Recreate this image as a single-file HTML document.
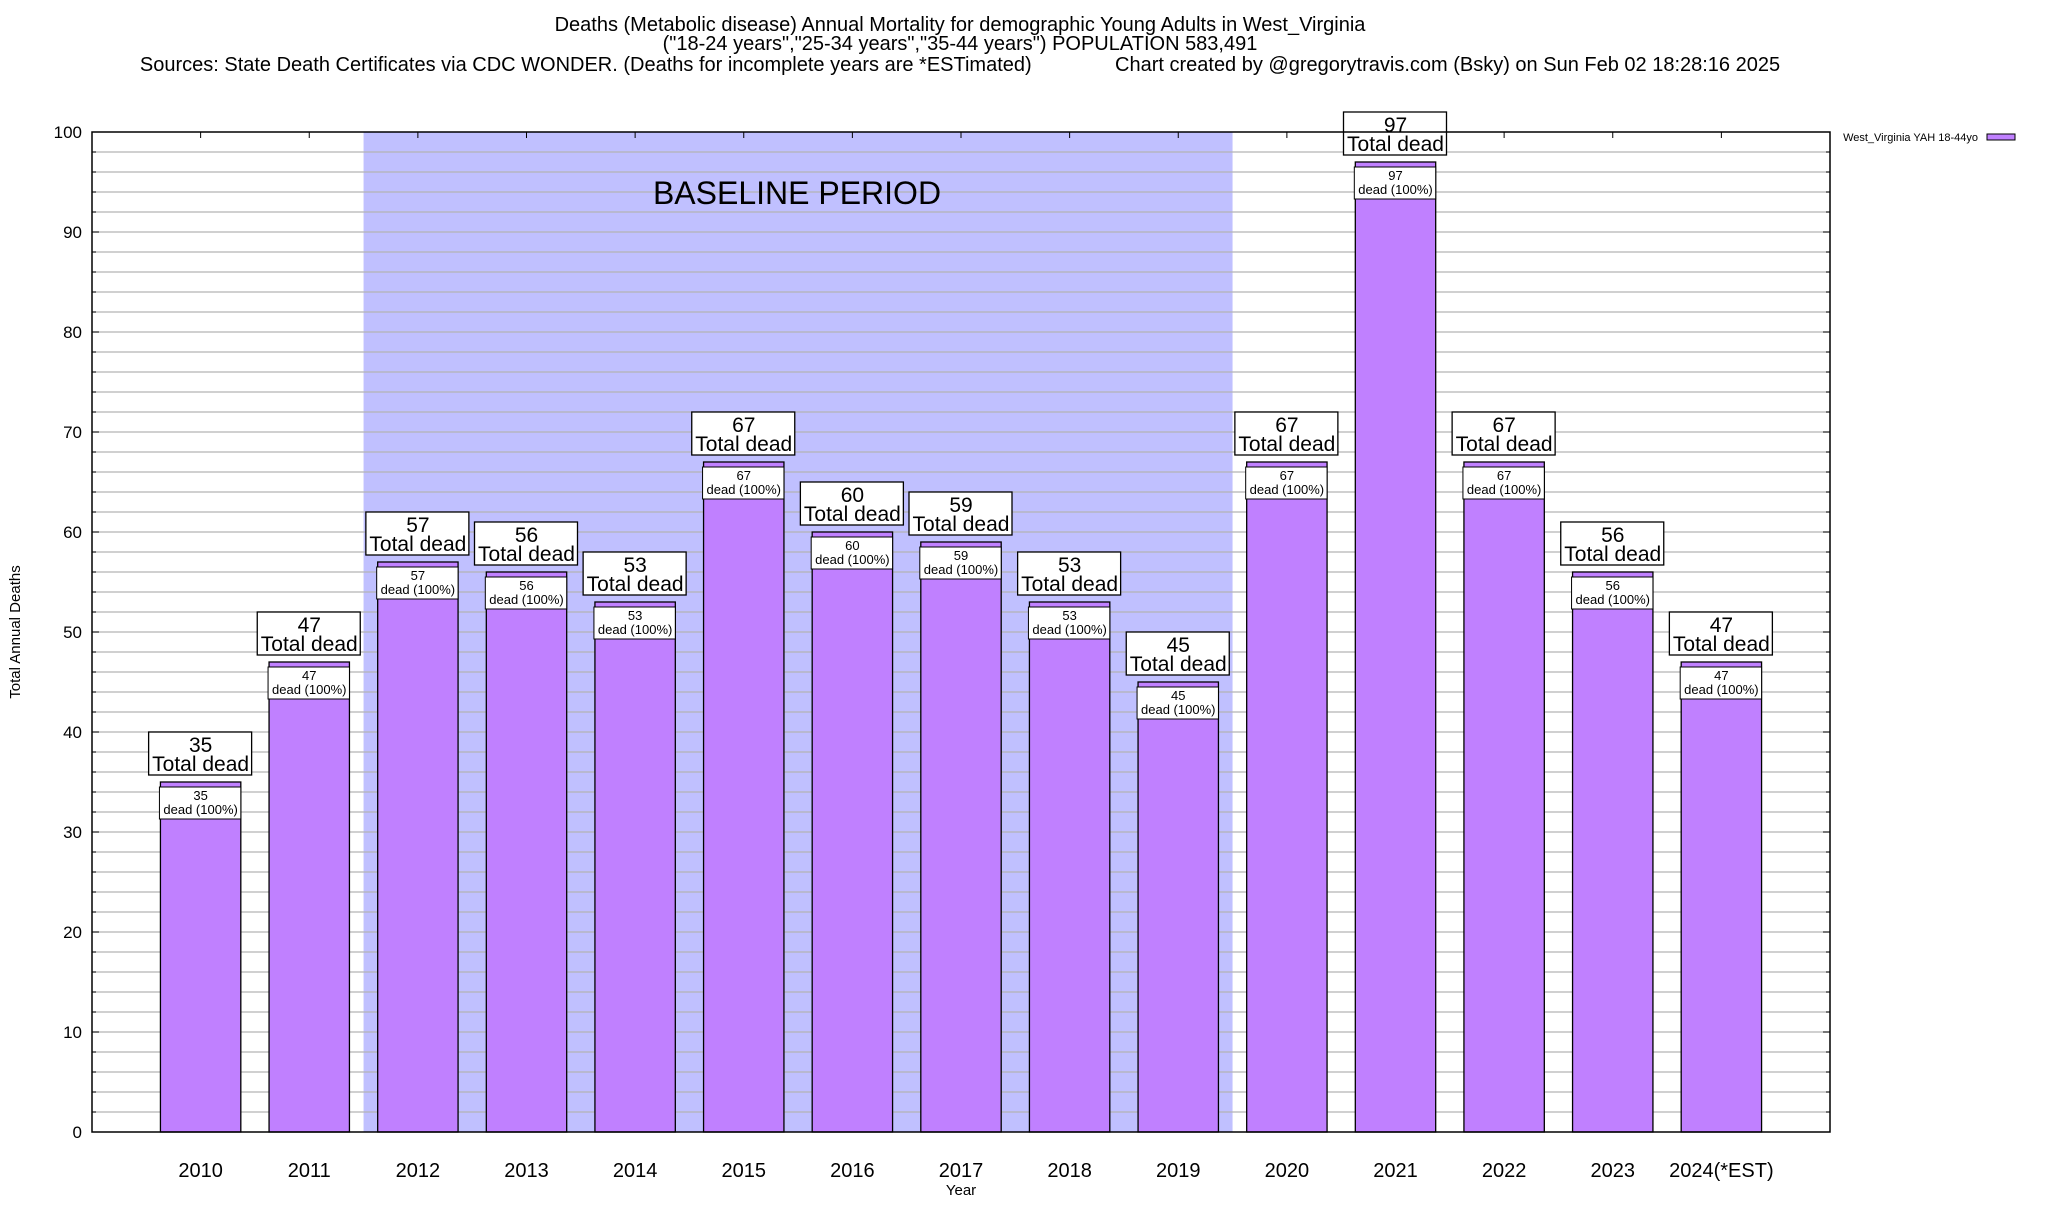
<!DOCTYPE html>
<html><head><meta charset="utf-8">
<style>
body{margin:0;background:#fff;}
svg text{font-family:"Liberation Sans",sans-serif;fill:#000;}
</style></head>
<body>
<svg id="chart" width="2048" height="1200" xmlns="http://www.w3.org/2000/svg">
<text x="960" y="31" font-size="20" text-anchor="middle">Deaths (Metabolic disease) Annual Mortality for demographic Young Adults in West_Virginia</text>
<text x="960" y="50" font-size="20" text-anchor="middle">("18-24 years","25-34 years","35-44 years") POPULATION 583,491</text>
<text x="960" y="71" font-size="20" text-anchor="middle" xml:space="preserve">Sources: State Death Certificates via CDC WONDER. (Deaths for incomplete years are *ESTimated)               Chart created by @gregorytravis.com (Bsky) on Sun Feb 02 18:28:16 2025</text>
<g id="plot"></g>
<text transform="translate(20,632) rotate(-90)" font-size="15" text-anchor="middle">Total Annual Deaths</text>
<text x="961" y="1195" font-size="15" text-anchor="middle">Year</text>
<g>
<text x="1978" y="141" font-size="11" text-anchor="end">West_Virginia YAH 18-44yo</text>
<rect x="1987" y="134" width="28" height="6" fill="#c080ff" stroke="#000" stroke-width="1"/>
</g>
</svg>
<script>
const categories=["2010","2011","2012","2013","2014","2015","2016","2017","2018","2019","2020","2021","2022","2023","2024(*EST)"];
const deaths=[35,47,57,56,53,67,60,59,53,45,67,97,67,56,47];
const yTicks=[0,10,20,30,40,50,60,70,80,90,100];
const baselineStart=2;
const baselineEnd=9;

const NS="http://www.w3.org/2000/svg";
const L=92,R=1830,T=132,B=1132;
const xs=i=>L+(i+1)*(R-L)/16;
const ys=v=>B-(v/100)*(B-T);
const g=document.getElementById('plot');
function mk(tag,attrs,parent){const e=document.createElementNS(NS,tag);for(const k in attrs)e.setAttribute(k,attrs[k]);(parent||g).appendChild(e);return e;}
const unit=(R-L)/16;
const bs=mk('rect',{x:xs(baselineStart)-unit/2,y:T,width:xs(baselineEnd)-xs(baselineStart)+unit,height:B-T,fill:'#c0c0ff'});


for(let v=2;v<100;v+=2){
  const gl=mk('line',{x1:L,x2:R,y1:ys(v),y2:ys(v),stroke:'#b4b4b4','stroke-width':1.3});
  
  
  const tl=(v%10===0)?7:4;
  mk('line',{x1:L,x2:L+tl,y1:ys(v),y2:ys(v),stroke:'#000','stroke-width':1});
  mk('line',{x1:R,x2:R-tl,y1:ys(v),y2:ys(v),stroke:'#000','stroke-width':1});
}
yTicks.forEach(v=>{
  const t=mk('text',{x:L-10,y:ys(v)+6,'font-size':17,'text-anchor':'end'});
  t.textContent=v;
  
  
});
const bl=mk('text',{x:797,y:204,'font-size':32,'text-anchor':'middle'});
bl.textContent='BASELINE PERIOD';


const bw=unit*0.74;
categories.forEach((c,i)=>{
  const v=deaths[i],cx=xs(i),top=ys(v);
  mk('line',{x1:cx,x2:cx,y1:T,y2:T+6,stroke:'#000'});
  const bar=mk('rect',{x:cx-bw/2,y:top,width:bw,height:B-top,fill:'#c080ff',stroke:'#000','stroke-width':1.3});
  
  
  const ib=mk('rect',{x:cx-bw/2-1,y:top+5,width:bw+1,height:32,fill:'#fff',stroke:'#000','stroke-width':1});
  
  
  const t1=mk('text',{x:cx,y:top+18,'font-size':13,'text-anchor':'middle'});t1.textContent=v;
  
  
  const t2=mk('text',{x:cx,y:top+32,'font-size':13,'text-anchor':'middle'});t2.textContent='dead (100%)';
  
  
  const ob=mk('rect',{x:cx-52,y:top-50,width:103,height:43,fill:'#fff',stroke:'#000','stroke-width':1.3});
  
  
  const t3=mk('text',{x:cx,y:top-30,'font-size':21,'text-anchor':'middle'});t3.textContent=v;
  
  
  const t4=mk('text',{x:cx,y:top-11,'font-size':21,'text-anchor':'middle'});t4.textContent='Total dead';
  
  
  const xl=mk('text',{x:cx,y:1177,'font-size':20,'text-anchor':'middle'});xl.textContent=c;
  
  
});
const fr=mk('rect',{x:L,y:T,width:R-L,height:B-T,fill:'none',stroke:'#000','stroke-width':1.5});


</script>
</body></html>
